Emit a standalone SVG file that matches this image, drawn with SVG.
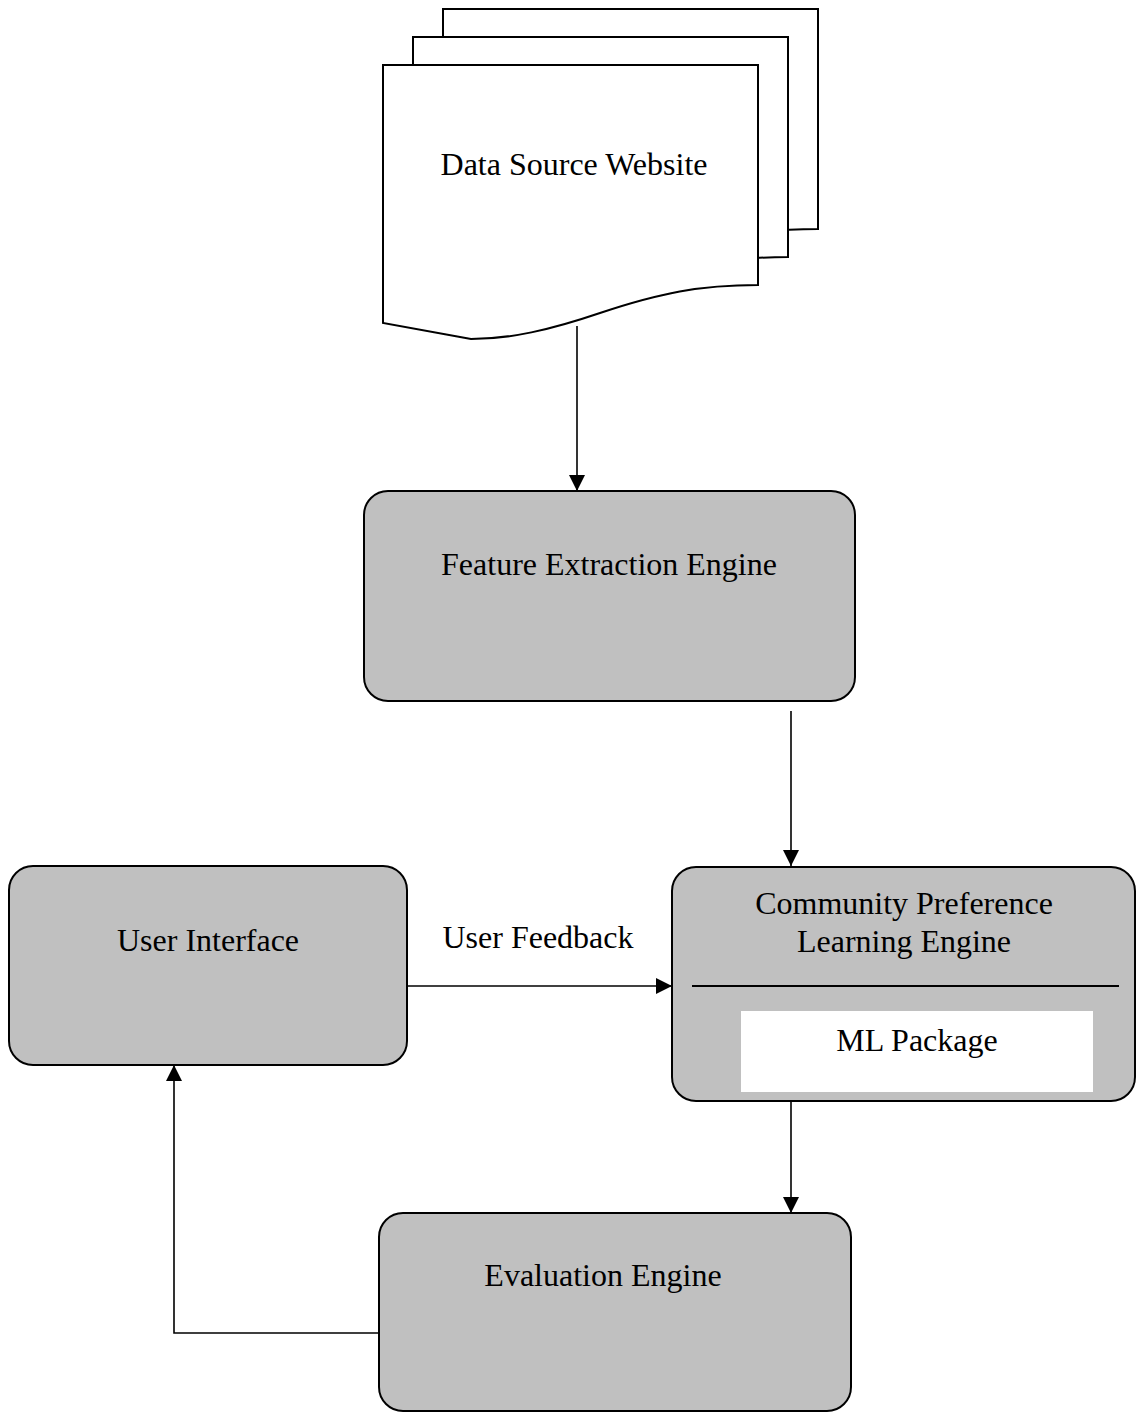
<svg xmlns="http://www.w3.org/2000/svg" xmlns:xlink="http://www.w3.org/1999/xlink" width="1136" height="1413" viewBox="0 0 1136 1413">
<style>
.box{fill:#c0c0c0;stroke:#000;stroke-width:2}
.page{fill:#fff;stroke:#000;stroke-width:2}
.t{font-family:"Liberation Serif","Times New Roman",serif;font-size:32px;fill:#000;text-anchor:middle}
.c{fill:none;stroke:#000;stroke-width:1.6}
</style>
<defs>
<marker id="ah" markerUnits="userSpaceOnUse" markerWidth="16" markerHeight="16" refX="16" refY="8" orient="auto">
<path d="M0,0 L16,8 L0,16 Z" fill="#000"/>
</marker>
<path id="pg" d="M383,65 H758 V285 C700,285 660,293 600,313 C550,330 510,339 471,339 L383,323 Z"/>
</defs>
<rect width="1136" height="1413" fill="#fff"/>
<g id="data-source">
<use xlink:href="#pg" class="page" transform="translate(60,-56)"/>
<use xlink:href="#pg" class="page" transform="translate(30,-28)"/>
<use xlink:href="#pg" class="page"/>
<text class="t" x="574" y="175">Data Source Website</text>
</g>
<g id="feature-extraction">
<rect class="box" x="364" y="491" width="491" height="210" rx="24"/>
<text class="t" x="609" y="575">Feature Extraction Engine</text>
</g>
<g id="user-interface">
<rect class="box" x="9" y="866" width="398" height="199" rx="24"/>
<text class="t" x="208" y="951">User Interface</text>
</g>
<g id="cple">
<rect class="box" x="672" y="867" width="463" height="234" rx="24"/>
<text class="t" x="904" y="914">Community Preference</text>
<text class="t" x="904" y="952">Learning Engine</text>
<line x1="692" y1="986" x2="1119" y2="986" stroke="#000" stroke-width="2"/>
<rect x="741" y="1011" width="352" height="81" fill="#fff"/>
<text class="t" x="917" y="1051">ML Package</text>
</g>
<g id="evaluation">
<rect class="box" x="379" y="1213" width="472" height="198" rx="24"/>
<text class="t" x="603" y="1286">Evaluation Engine</text>
</g>
<g id="connectors">
<line class="c" x1="577" y1="326" x2="577" y2="491" marker-end="url(#ah)"/>
<line class="c" x1="791" y1="711" x2="791" y2="866" marker-end="url(#ah)"/>
<line class="c" x1="407" y1="986" x2="672" y2="986" marker-end="url(#ah)"/>
<line class="c" x1="791" y1="1101" x2="791" y2="1213" marker-end="url(#ah)"/>
<polyline class="c" points="379,1333 174,1333 174,1065" marker-end="url(#ah)"/>
<text class="t" x="538" y="948">User Feedback</text>
</g>
</svg>
